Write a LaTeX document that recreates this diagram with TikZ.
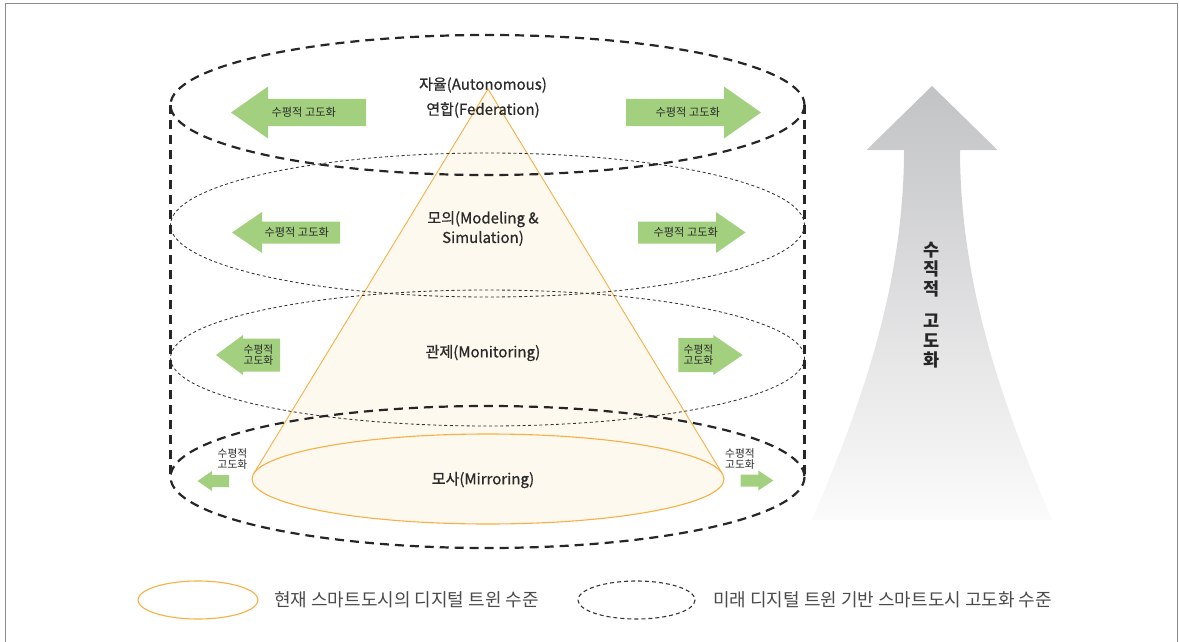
\documentclass[tikz,border=0pt]{standalone}
\usepackage{fontspec}
\setmainfont{Noto Sans CJK KR}
\newfontfamily\krmed{Noto Sans CJK KR}[FakeBold=0.8]

\definecolor{arrgreen}{HTML}{A2D07E}
\definecolor{coneline}{HTML}{F6B045}
\definecolor{conefill}{HTML}{FEF9EF}
\definecolor{txt}{HTML}{2B2B2B}
\definecolor{framegray}{HTML}{8C8C8C}
\definecolor{vtop}{HTML}{C2C3C5}
\definecolor{vbottom}{HTML}{FBFBFB}

% horizontal block arrow: tip x, head-base x, tail x, centre y, half body, half head
\newcommand\hzarrow[6]{%
  \fill[greenarrow] (#1,#4) -- (#2,#4-#6) -- (#2,#4-#5) -- (#3,#4-#5)
    -- (#3,#4+#5) -- (#2,#4+#5) -- (#2,#4+#6) -- cycle;}

\begin{document}
\begin{tikzpicture}[x=1pt,y=-1pt,
  thickdash/.style={draw=black!85, line width=2.2pt, dash pattern=on 9pt off 6pt},
  thindash/.style={draw=black!80, line width=0.85pt, dash pattern=on 3pt off 2.6pt},
  greenarrow/.style={fill=arrgreen},
  lvl/.style={text=txt, font=\krmed\fontsize{15}{19.5}\selectfont, align=center, inner sep=0pt},
  hlabel/.style={text=txt, font=\fontsize{11.2}{12}\selectfont, inner sep=0pt},
  hlabeltwo/.style={text=txt, font=\fontsize{10.7}{11.4}\selectfont, align=center, inner sep=0pt},
  vtext/.style={text=black!85, font=\bfseries\fontsize{17.5}{19.5}\selectfont, align=center, inner sep=0pt},
  legendtxt/.style={text=txt!85, font=\fontsize{18}{20}\selectfont, anchor=west, inner sep=0pt}]

\useasboundingbox (0,0) rectangle (1179,642);

% frame
\draw[framegray, line width=1.2pt] (5.5,642) -- (5.5,3.7) -- (1177.6,3.7) -- (1177.6,642);

% vertical growth arrow
\shade[top color=vtop, bottom color=vbottom]
  (932,86) -- (997.5,150) -- (960,150)
  .. controls (960,300) and (1014,430) .. (1052,520)
  -- (812,520)
  .. controls (850,430) and (904,300) .. (904,150)
  -- (866.5,150) -- cycle;
\node[vtext] (vt) at (932,305) {수\\직\\적\\[13pt]고\\도\\화};

% cone
\coordinate (apex) at (488,89);
\coordinate (tl) at (253.6,473.8);
\coordinate (tr) at (722.4,473.8);
\fill[conefill] (apex) -- (tl) -- (tr) -- cycle;
\fill[conefill] (488,479) ellipse [x radius=236, y radius=45];
\draw[coneline, line width=0.9pt] (tl) -- (apex) -- (tr);
\draw[coneline, line width=1.1pt] (488,479) ellipse [x radius=236, y radius=45];

% cylinder layers
\draw[thickdash] (487.5,105) ellipse [x radius=317, y radius=70];
\draw[thindash]  (487.5,225) ellipse [x radius=317, y radius=72];
\draw[thindash]  (487.5,358) ellipse [x radius=317, y radius=68];
\draw[thickdash] (487.5,477) ellipse [x radius=317, y radius=71];
\draw[thickdash] (170.5,105) -- (170.5,477);
\draw[thickdash] (804.5,105) -- (804.5,477);

% horizontal arrows
\hzarrow{231}{268}{366}{112.5}{13.5}{26}
\hzarrow{761}{724}{626}{112.5}{13.5}{26}
\hzarrow{232}{262}{340}{232.5}{11}{20.5}
\hzarrow{745.5}{716}{638}{232.5}{11}{20.5}
\hzarrow{216}{243}{280}{355}{16.5}{20}
\hzarrow{742.7}{713.3}{678.3}{355}{17}{20}
\hzarrow{197.5}{212}{229}{481}{6}{10}
\hzarrow{773.3}{758.3}{740.7}{480.5}{6}{10}

\node[hlabel] (h1l) at (303.8,112.5) {수평적 고도화};
\node[hlabel] (h1r) at (687.8,112.5) {수평적 고도화};
\node[hlabel] (h2l) at (296.7,232.5) {수평적 고도화};
\node[hlabel] (h2r) at (685.8,232.5) {수평적 고도화};
\node[hlabeltwo] (h3l) at (258.5,355) {수평적\\고도화};
\node[hlabeltwo] (h3r) at (698.5,355) {수평적\\고도화};
\node[hlabeltwo] (h4l) at (232.5,459) {수평적\\고도화};
\node[hlabeltwo] (h4r) at (740,459) {수평적\\고도화};

% level labels
\node[lvl] (auto) at (483,85) {자율(Autonomous)};
\node[lvl] (fed)  at (483,110) {연합(Federation)};
\node[lvl] (sim)  at (483,228.5) {모의(Modeling \&\\Simulation)};
\node[lvl] (mon)  at (483,353) {관제(Monitoring)};
\node[lvl] (mir)  at (483,480) {모사(Mirroring)};

% legend
\draw[coneline, line width=1.1pt] (198,600) ellipse [x radius=60, y radius=19];
\node[legendtxt] (lg1) at (274,600) {현재 스마트도시의 디지털 트윈 수준};
\draw[thindash, line width=1.1pt, dash pattern=on 4pt off 3pt] (636.5,600) ellipse [x radius=58.5, y radius=19];
\node[legendtxt] (lg2) at (713,600) {미래 디지털 트윈 기반 스마트도시 고도화 수준};

\end{tikzpicture}
\end{document}
